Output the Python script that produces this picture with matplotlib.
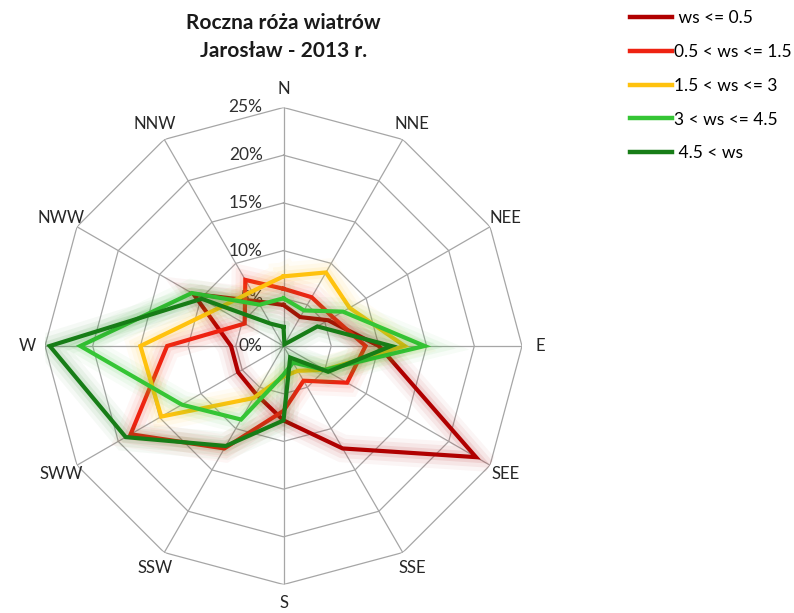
import numpy as np
import matplotlib
matplotlib.use("Agg")
import matplotlib.pyplot as plt
import matplotlib.patheffects as pe
from matplotlib.lines import Line2D

plt.rcParams['font.family'] = ['Lato', 'DejaVu Sans']

directions = ['N', 'NNE', 'NEE', 'E', 'SEE', 'SSE', 'S', 'SSW', 'SWW', 'W', 'NWW', 'NNW']
labels = [' ws <= 0.5', '0.5 < ws <= 1.5', '1.5 < ws <= 3', '3 < ws <= 4.5', ' 4.5 < ws']
ws_le_05 = [4.3, 3.5, 5.4, 10.0, 23.3, 12.4, 7.8, 5.8, 5.5, 5.5, 10.9, 5.4]
ws_05_15 = [6.0, 5.9, 6.0, 8.6, 7.7, 4.2, 6.8, 12.4, 18.5, 12.2, 4.7, 8.0]
ws_15_3 = [7.3, 8.9, 8.0, 12.7, 5.0, 3.0, 3.2, 6.3, 14.8, 15.0, 7.9, 6.6]
ws_3_45 = [5.0, 4.3, 7.2, 14.8, 5.0, 2.0, 3.0, 8.9, 12.3, 21.3, 11.1, 5.0]
ws_gt_45 = [2.0, 0.2, 4.1, 11.3, 5.4, 1.4, 7.8, 12.1, 19.1, 24.5, 9.9, 2.7]
series = [ws_le_05, ws_05_15, ws_15_3, ws_3_45, ws_gt_45]
colors = ['#B00000', '#EE2211', '#FFC20E', '#35C535', '#177D17']
rticks = [0, 5, 10, 15, 20, 25]
rtick_labels = ['0%', '5%', '10%', '15%', '20%', '25%']
title = 'Roczna róża wiatrów\nJarosław - 2013 r.'

W, H = 794, 613
fig = plt.figure(figsize=(W / 100, H / 100), dpi=100)
cx, cy, R = 283.5, 346.0, 238.5
ax = fig.add_axes([(cx - R) / W, (H - cy - R) / H, 2 * R / W, 2 * R / H], projection='polar')
ax.set_theta_zero_location('N')
ax.set_theta_direction(-1)
ax.set_ylim(0, rticks[-1])
ax.grid(False)
ax.spines['polar'].set_visible(False)
ax.set_xticks([])
ax.set_yticks([])
ax.patch.set_alpha(0)

n = len(directions)
theta = np.arange(n) * 2 * np.pi / n
theta_closed = np.append(theta, theta[0])

# polygon grid
for r in rticks[1:]:
    ax.plot(theta_closed, [r] * (n + 1), color='#A6A6A6', lw=0.9, zorder=1)
for t in theta:
    ax.plot([t, t], [0, rticks[-1]], color='#A6A6A6', lw=0.9, zorder=1)

# direction labels
for t, d in zip(theta, directions):
    ax.text(t, 26.9, d, ha='center', va='center', fontsize=12, color='#262626')

# radial labels
for r, lab in zip(rticks, rtick_labels):
    ax.annotate(lab, xy=(0, r), xytext=(-15, 0), textcoords='offset points',
                ha='right', va='center', fontsize=12.5, color='#303030', zorder=2)

for vals, col in zip(series, colors):
    v = list(vals) + [vals[0]]
    ax.plot(theta_closed, v, color=col, lw=3.0, zorder=3, solid_joinstyle='miter',
            path_effects=[pe.Stroke(linewidth=20, foreground=col, alpha=0.04),
                          pe.Stroke(linewidth=14, foreground=col, alpha=0.06),
                          pe.Stroke(linewidth=8, foreground=col, alpha=0.09),
                          pe.Normal()])

fig.text(cx / W, 1 - 37 / H, title, ha='center', va='center', fontsize=15,
         fontweight='bold', color='#1a1a1a', linespacing=1.55)

handles = [Line2D([0], [0], color=c, lw=3.2) for c in colors]
fig.legend(handles, labels, loc='upper left', bbox_to_anchor=(620 / W, 1.0),
           frameon=False, fontsize=12.5, handlelength=2.4, handletextpad=0.1,
           labelspacing=1.02, borderpad=0.1)

fig.savefig('out.png', dpi=100, facecolor='white')
